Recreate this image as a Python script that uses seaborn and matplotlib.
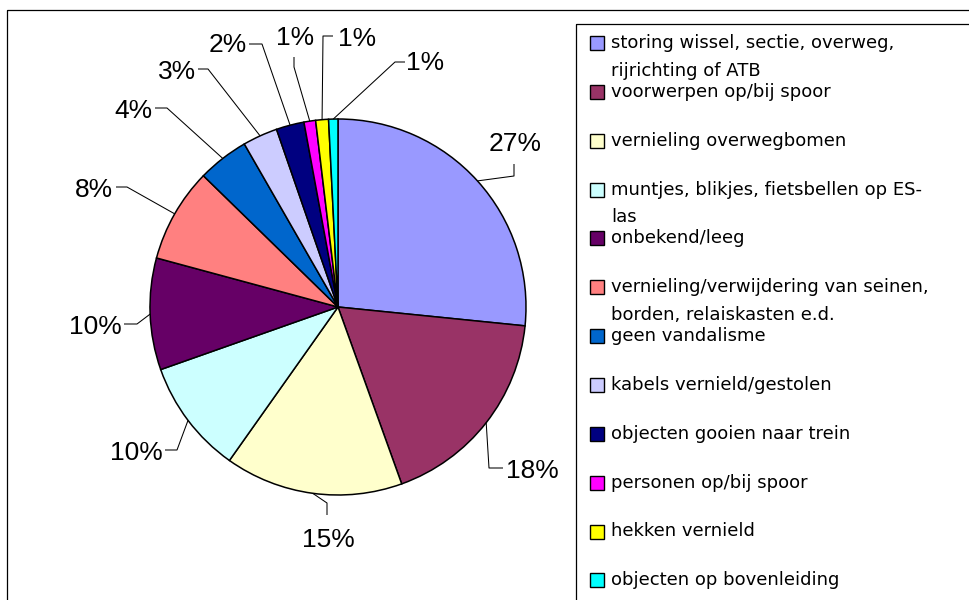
import matplotlib
matplotlib.use("Agg")
import matplotlib.pyplot as plt
from matplotlib.patches import Rectangle
import numpy as np
import seaborn as sns

# ---------------- data ----------------
categories = [
    "storing wissel, sectie, overweg,\nrijrichting of ATB",
    "voorwerpen op/bij spoor",
    "vernieling overwegbomen",
    "muntjes, blikjes, fietsbellen op ES-\nlas",
    "onbekend/leeg",
    "vernieling/verwijdering van seinen,\nborden, relaiskasten e.d.",
    "geen vandalisme",
    "kabels vernield/gestolen",
    "objecten gooien naar trein",
    "personen op/bij spoor",
    "hekken vernield",
    "objecten op bovenleiding",
]
shares = [26.6, 17.9, 15.3, 9.8, 9.6, 8.1, 4.4, 3.0, 2.4, 1.0, 1.1, 0.8]
colors = ["#9999FF", "#993366", "#FFFFCC", "#CCFFFF", "#660066", "#FF8080",
          "#0066CC", "#CCCCFF", "#000080", "#FF00FF", "#FFFF00", "#00FFFF"]

# ---------------- layout (pixel coordinates, y downwards) ----------------
W, H = 969, 600
CENTER = (338, 307)
RADIUS = 188
# label text centre, and leader polyline points (label end, elbow)
label_pos = [(515, 142), (532, 469), (328, 538), (136, 451), (95, 325), (94, 188),
             (133, 109), (177, 70), (228, 43), (295, 36), (357, 37), (425, 61)]
leader_end = [(514, 164), (503, 468), (327, 515), (165, 450), (124, 324), (116, 187),
              (155, 108), (198, 69), (249, 44), (294, 57), (333, 36), (405, 62)]
leader_elbow = [(514, 176), (489, 468), (327, 503), (177, 450), (137, 324), (127, 187),
                (167, 108), (208, 69), (262, 44), (294, 67), (323, 36), (395, 62)]

sns.set_theme(style="white")
plt.rcParams["font.family"] = ["Liberation Sans", "DejaVu Sans"]

fig = plt.figure(figsize=(W / 100, H / 100), dpi=100)
fig.patch.set_facecolor("white")
ax = fig.add_axes([0, 0, 1, 1])

palette = sns.color_palette(colors)
wedges, _ = ax.pie(shares, colors=palette, startangle=-90, counterclock=True,
                   center=CENTER, radius=RADIUS,
                   wedgeprops=dict(edgecolor="black", linewidth=1.1))

ax.set_xlim(0, W)
ax.set_ylim(H, 0)
ax.set_aspect("equal")
ax.axis("off")

# outer chart-area frame
ax.add_patch(Rectangle((7, 10), W + 20, H + 20, fill=False, edgecolor="black",
                       linewidth=0.9, zorder=0))
# legend frame
ax.add_patch(Rectangle((576, 24), W + 20, H + 20, fill=False, edgecolor="black",
                       linewidth=0.9, zorder=0))

# percentage labels with leader lines
pct_fs = 19
pct_em = pct_fs * 100 / 72
for w, v, lp, le, lb in zip(wedges, shares, label_pos, leader_end, leader_elbow):
    tm = np.deg2rad((w.theta1 + w.theta2) / 2)
    ax_pt = (CENTER[0] + RADIUS * np.cos(tm), CENTER[1] + RADIUS * np.sin(tm))
    ax.plot([le[0], lb[0], ax_pt[0]], [le[1], lb[1], ax_pt[1]],
            color="black", linewidth=0.75, solid_capstyle="butt")
    ax.text(lp[0], lp[1] + 0.358 * pct_em, f"{round(v)}%", fontsize=pct_fs,
            ha="center", va="baseline", color="black")

# legend (Excel style: swatch aligned with first text line)
leg_fs = 13
y0, dy = 43, 48.85
for i, (lab, c) in enumerate(zip(categories, palette)):
    yc = y0 + dy * i
    ax.add_patch(Rectangle((590, yc - 7), 14, 14, facecolor=c, edgecolor="black",
                           linewidth=1.0))
    for k, line in enumerate(lab.split("\n")):
        ax.text(611, yc + 5 + 27.5 * k, line, fontsize=leg_fs, ha="left",
                va="baseline", color="black", family=["DejaVu Sans"])

fig.savefig("out.png", dpi=100)
